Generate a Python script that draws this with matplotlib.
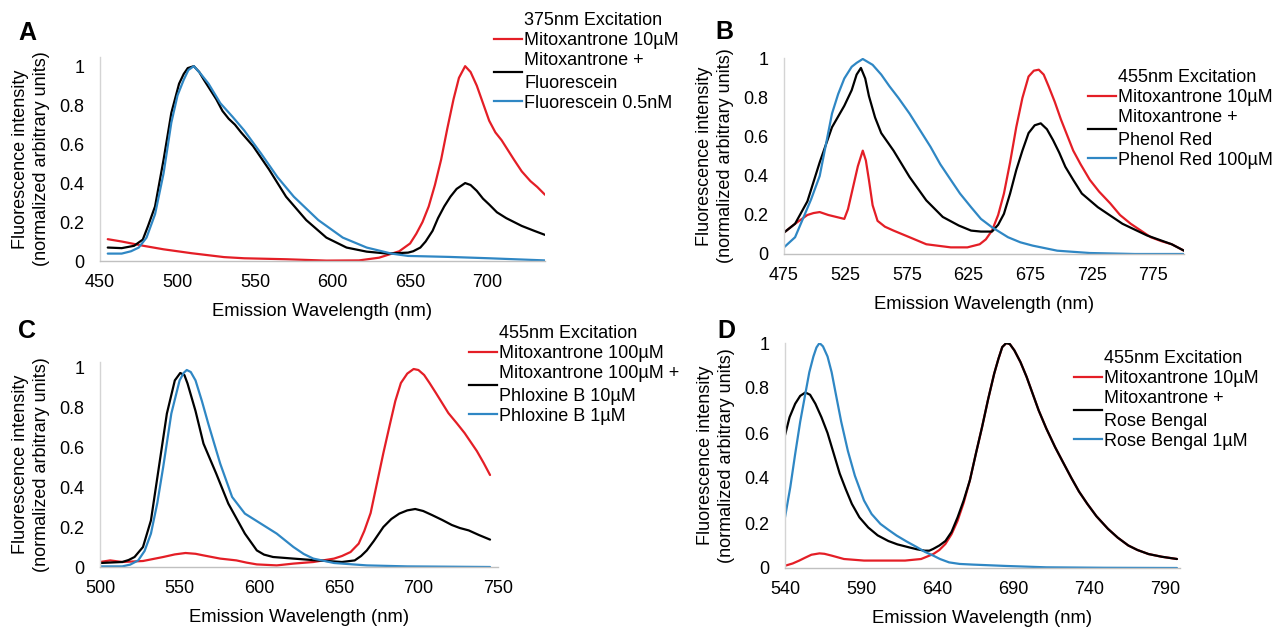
import matplotlib
matplotlib.use("Agg")
import matplotlib.pyplot as plt
from matplotlib.lines import Line2D

plt.rcParams['font.family'] = ['Liberation Sans', 'DejaVu Sans']

RED = '#e41e26'
BLACK = '#000000'
BLUE = '#2f87c4'

# ---------------- Panel A data (375 nm excitation) ----------------
a_red_wl = [455, 464, 478, 491, 509, 530, 543, 570, 596, 617, 630, 643, 650, 654, 658, 662, 666, 670, 674, 678, 681.5, 685.5, 689, 693, 697, 701, 705, 709, 713, 717, 722, 727.6, 732, 737]
a_red = [0.112, 0.10, 0.078, 0.06, 0.04, 0.02, 0.014, 0.009, 0.002, 0.003, 0.017, 0.05, 0.09, 0.14, 0.20, 0.28, 0.39, 0.52, 0.68, 0.83, 0.94, 1.0, 0.97, 0.9, 0.81, 0.72, 0.66, 0.62, 0.57, 0.52, 0.46, 0.41, 0.38, 0.34]
a_blk_wl = [455, 464, 472, 477.6, 481, 485.5, 491, 496, 501, 504, 506.6, 510.5, 514, 517, 521, 525, 529, 533, 537, 541, 548.7, 559, 570, 583, 596, 609, 622, 635.5, 648.7, 652, 656.6, 660, 664.5, 668, 672, 676, 680, 685.5, 689, 693, 697, 701, 706, 712, 717, 722, 730, 737]
a_blk = [0.069, 0.066, 0.078, 0.11, 0.18, 0.28, 0.52, 0.76, 0.91, 0.96, 0.99, 1.0, 0.97, 0.93, 0.88, 0.83, 0.77, 0.73, 0.70, 0.66, 0.59, 0.47, 0.33, 0.21, 0.12, 0.069, 0.048, 0.038, 0.043, 0.05, 0.069, 0.10, 0.155, 0.22, 0.28, 0.33, 0.37, 0.40, 0.39, 0.36, 0.32, 0.29, 0.25, 0.22, 0.20, 0.18, 0.155, 0.134]
a_blu_wl = [455, 464, 470, 475, 480, 485.5, 491, 496, 500, 504, 507, 510.5, 515, 520, 527.6, 535.5, 543, 554, 564.5, 575, 590.8, 606.6, 622, 638, 648.7, 675, 701, 737]
a_blu = [0.038, 0.038, 0.05, 0.069, 0.12, 0.24, 0.45, 0.71, 0.85, 0.93, 0.98, 1.0, 0.96, 0.91, 0.81, 0.74, 0.67, 0.55, 0.43, 0.33, 0.21, 0.12, 0.069, 0.038, 0.026, 0.021, 0.014, 0.003]
a_labels = ['375nm Excitation', 'Mitoxantrone 10\u00b5M', 'Mitoxantrone +\nFluorescein', 'Fluorescein 0.5nM']
a_xticks = [450, 500, 550, 600, 650, 700]

# ---------------- Panel B data (455 nm excitation) ----------------
b_red_wl = [475, 484, 494, 499, 504, 511, 517.5, 524, 527, 531, 535, 539, 541.5, 544, 547, 551, 557, 564, 577, 590.6, 610.5, 624, 634, 639, 644, 649, 653.7, 658.7, 663.7, 668.7, 673.7, 678, 682, 686, 690, 695, 700, 705, 710, 716, 723.5, 731, 740, 748, 756.7, 765, 773, 782, 790, 800]
b_red = [0.11, 0.155, 0.20, 0.21, 0.215, 0.20, 0.19, 0.18, 0.23, 0.34, 0.45, 0.53, 0.48, 0.38, 0.25, 0.17, 0.14, 0.12, 0.086, 0.05, 0.034, 0.034, 0.05, 0.075, 0.12, 0.20, 0.31, 0.47, 0.65, 0.80, 0.91, 0.94, 0.945, 0.92, 0.86, 0.78, 0.69, 0.61, 0.53, 0.46, 0.38, 0.32, 0.26, 0.20, 0.155, 0.12, 0.086, 0.065, 0.05, 0.017]
b_blk_wl = [475, 484, 494, 504, 514, 524, 530, 534, 537.5, 541, 544, 549, 554, 564, 577, 590.6, 604, 617, 627, 635, 644, 649, 653.7, 658.7, 663.7, 668.7, 673.7, 678.7, 683.6, 688.6, 693.6, 698.6, 703.6, 710, 717, 730, 750, 770, 790, 800]
b_blk = [0.11, 0.155, 0.27, 0.47, 0.65, 0.76, 0.84, 0.92, 0.954, 0.90, 0.81, 0.70, 0.62, 0.53, 0.395, 0.275, 0.19, 0.146, 0.12, 0.115, 0.115, 0.15, 0.206, 0.31, 0.43, 0.53, 0.62, 0.66, 0.67, 0.64, 0.584, 0.52, 0.447, 0.38, 0.31, 0.24, 0.155, 0.095, 0.05, 0.017]
b_blu_wl = [475, 484, 491, 497, 504, 509, 514, 519, 524, 530, 534, 539, 547, 554, 560.7, 568, 577, 585, 594, 602, 610.5, 618, 627, 635, 644, 657, 667, 677, 697, 723.5, 760, 800]
b_blu = [0.034, 0.086, 0.19, 0.28, 0.40, 0.56, 0.72, 0.82, 0.90, 0.96, 0.98, 1.0, 0.97, 0.92, 0.86, 0.80, 0.72, 0.64, 0.55, 0.46, 0.38, 0.31, 0.24, 0.18, 0.137, 0.086, 0.06, 0.043, 0.017, 0.005, 0.0, 0.0]
b_labels = ['455nm Excitation', 'Mitoxantrone 10\u00b5M', 'Mitoxantrone +\nPhenol Red', 'Phenol Red 100\u00b5M']
b_xticks = [475, 525, 575, 625, 675, 725, 775]

# ---------------- Panel C data ----------------
c_red_wl = [500, 506.4, 514, 527, 539.7, 547, 553.7, 560, 565, 575.5, 585.7, 592, 598.5, 611, 621.5, 634, 647, 652, 657.4, 662.5, 666, 670, 674, 678, 682, 685.5, 689, 693, 697, 700, 703.6, 707, 711, 718.8, 724, 729, 736.7, 741, 745]
c_red = [0.025, 0.033, 0.025, 0.03, 0.05, 0.063, 0.07, 0.066, 0.058, 0.042, 0.033, 0.022, 0.013, 0.008, 0.017, 0.025, 0.042, 0.055, 0.075, 0.117, 0.18, 0.27, 0.42, 0.57, 0.71, 0.83, 0.92, 0.967, 0.99, 0.985, 0.96, 0.92, 0.87, 0.77, 0.72, 0.67, 0.58, 0.52, 0.46]
c_blk_wl = [500, 514, 518, 521.7, 527, 532, 537, 542, 547, 550.4, 553, 555, 560, 565, 573, 580.6, 591, 598.5, 603, 608.7, 621.5, 636.6, 652, 660, 664, 667.6, 672, 678, 683, 688, 693, 698, 703, 708.5, 715, 721, 726, 731.6, 738, 745]
c_blk = [0.02, 0.025, 0.035, 0.05, 0.1, 0.233, 0.5, 0.767, 0.933, 0.97, 0.96, 0.917, 0.78, 0.617, 0.467, 0.317, 0.167, 0.083, 0.062, 0.05, 0.042, 0.033, 0.025, 0.033, 0.055, 0.083, 0.13, 0.2, 0.24, 0.267, 0.283, 0.29, 0.28, 0.26, 0.235, 0.21, 0.195, 0.183, 0.16, 0.137]
c_blu_wl = [500, 514, 519, 524, 528, 532, 536, 539.7, 544.8, 550, 552.5, 554.5, 557, 560, 564, 568, 575.5, 583, 591, 601, 611, 621.5, 628, 634, 647, 667.6, 693, 745]
c_blu = [0.003, 0.003, 0.012, 0.033, 0.08, 0.167, 0.32, 0.5, 0.767, 0.933, 0.97, 0.985, 0.975, 0.933, 0.83, 0.717, 0.517, 0.35, 0.267, 0.217, 0.167, 0.1, 0.065, 0.042, 0.02, 0.008, 0.003, 0.0]
c_labels = ['455nm Excitation', 'Mitoxantrone 100\u00b5M', 'Mitoxantrone 100\u00b5M +\nPhloxine B 10\u00b5M', 'Phloxine B 1\u00b5M']
c_xticks = [500, 550, 600, 650, 700, 750]

# ---------------- Panel D data ----------------
d_red_wl = [540, 545, 549.4, 553, 557.4, 562.7, 566, 570.7, 578.8, 592, 605.5, 619, 629.6, 637.6, 641.6, 645.6, 649.6, 653.6, 657.6, 661.7, 665.7, 669.7, 673.7, 677.7, 680.5, 683, 685.7, 688, 691, 695, 699, 703, 707, 712, 717.8, 723, 728.5, 733.5, 739, 745, 752.6, 759, 766, 772, 779.3, 788, 798]
d_red = [0.01, 0.02, 0.033, 0.045, 0.059, 0.065, 0.063, 0.055, 0.04, 0.033, 0.033, 0.033, 0.04, 0.062, 0.08, 0.107, 0.15, 0.21, 0.29, 0.39, 0.51, 0.626, 0.75, 0.864, 0.93, 0.982, 1.0, 0.995, 0.967, 0.915, 0.85, 0.775, 0.70, 0.62, 0.537, 0.47, 0.40, 0.34, 0.285, 0.23, 0.174, 0.135, 0.1, 0.08, 0.062, 0.05, 0.04]
d_blk_wl = [540, 543, 546.7, 550, 553.4, 556.5, 560, 564, 568, 572, 576, 580, 584, 589, 594.8, 601, 608, 614, 621.5, 627, 632, 635, 637.6, 641.6, 645.6, 649.6, 653.6, 657.6, 661.7, 665.7, 669.7, 673.7, 677.7, 680.5, 683, 685.7, 688, 691, 695, 699, 703, 707, 712, 717.8, 723, 728.5, 733.5, 739, 745, 752.6, 759, 766, 772, 779.3, 788, 798]
d_blk = [0.59, 0.67, 0.73, 0.765, 0.78, 0.77, 0.73, 0.67, 0.6, 0.51, 0.42, 0.35, 0.285, 0.225, 0.18, 0.145, 0.12, 0.105, 0.092, 0.083, 0.077, 0.077, 0.085, 0.1, 0.12, 0.16, 0.225, 0.30, 0.39, 0.51, 0.626, 0.75, 0.864, 0.93, 0.982, 1.0, 0.995, 0.967, 0.915, 0.85, 0.775, 0.70, 0.62, 0.537, 0.47, 0.40, 0.34, 0.285, 0.23, 0.174, 0.135, 0.1, 0.08, 0.062, 0.05, 0.04]
d_blu_wl = [540, 543.5, 546.7, 550, 553.4, 556, 558.7, 560.7, 562.7, 565, 568, 570.7, 573.4, 577, 581.4, 586, 592, 597, 602.8, 608, 613.5, 620, 627, 632, 637.6, 642, 648, 655, 664, 675, 685.7, 712, 750, 798]
d_blu = [0.225, 0.36, 0.507, 0.65, 0.775, 0.87, 0.94, 0.98, 1.0, 0.985, 0.94, 0.87, 0.775, 0.65, 0.52, 0.41, 0.30, 0.24, 0.196, 0.17, 0.144, 0.118, 0.092, 0.072, 0.055, 0.04, 0.025, 0.018, 0.015, 0.012, 0.009, 0.003, 0.001, 0.0]
d_labels = ['455nm Excitation', 'Mitoxantrone 10\u00b5M', 'Mitoxantrone +\nRose Bengal', 'Rose Bengal 1\u00b5M']
d_xticks = [540, 590, 640, 690, 740, 790]

y_ticks = [0, 0.2, 0.4, 0.6, 0.8, 1.0]
y_ticklabels = ['0', '0.2', '0.4', '0.6', '0.8', '1']

W, H = 1282, 628
fig = plt.figure(figsize=(W / 100, H / 100), dpi=100)


def px_axes(left, right, bottom, top):
    return [left / W, 1 - bottom / H, (right - left) / W, (bottom - top) / H]


def panel(rect, xlim, ytop, xticks, series, labels, letter, letter_xy, leg_xy):
    ax = fig.add_axes(px_axes(*rect))
    for wl, val, col in series:
        ax.plot(wl, val, color=col, lw=1.6, solid_joinstyle='round', solid_capstyle='round')
    ax.set_xlim(*xlim)
    ax.set_ylim(0, ytop)
    ax.set_xticks(xticks)
    ax.set_yticks(y_ticks)
    ax.set_yticklabels(y_ticklabels)
    for s in ['top', 'right']:
        ax.spines[s].set_visible(False)
    ax.spines['left'].set_color('#d4d4d4')
    ax.spines['bottom'].set_color('#c0c0c0')
    ax.spines['left'].set_linewidth(1.0)
    ax.spines['bottom'].set_linewidth(1.0)
    ax.tick_params(axis='both', length=0, labelsize=13)
    ax.tick_params(axis='y', pad=11)
    ax.tick_params(axis='x', pad=9.5)
    ax.set_xlabel('Emission Wavelength (nm)', fontsize=13.3, labelpad=8.5)
    ax.set_ylabel('Fluorescence intensity\n(normalized arbitrary units)', fontsize=13,
                  linespacing=1.3)
    width = rect[1] - rect[0]
    ax.yaxis.set_label_coords(-50 / width, 0.5)
    handles = [Line2D([], [], color='none')] + [Line2D([], [], color=c, lw=1.6) for _, _, c in series]
    leg = fig.legend(handles, labels, loc='upper left',
                     bbox_to_anchor=(leg_xy[0] / W, 1 - leg_xy[1] / H),
                     frameon=False, fontsize=13, handlelength=1.55, handletextpad=0.12,
                     labelspacing=0.17, borderpad=0, borderaxespad=0)
    for t in leg.get_texts():
        t.set_linespacing(1.42)
    fig.text(letter_xy[0] / W, 1 - letter_xy[1] / H, letter, fontsize=18, fontweight='bold',
             ha='center', va='center')
    return ax


panel((100, 545, 261, 57), (450, 737), 1.047, a_xticks,
      [(a_red_wl, a_red, RED), (a_blk_wl, a_blk, BLACK), (a_blu_wl, a_blu, BLUE)],
      a_labels, 'A', (27, 33), (494, 12))
panel((784, 1184, 254, 58), (475, 800), 1.005, b_xticks,
      [(b_red_wl, b_red, RED), (b_blk_wl, b_blk, BLACK), (b_blu_wl, b_blu, BLUE)],
      b_labels, 'B', (724, 32), (1088, 69))
panel((100, 498, 567, 362), (500, 750), 1.025, c_xticks,
      [(c_red_wl, c_red, RED), (c_blk_wl, c_blk, BLACK), (c_blu_wl, c_blu, BLUE)],
      c_labels, 'C', (27, 331), (469, 325))
panel((785, 1180, 568, 343), (540, 800), 1.0, d_xticks,
      [(d_red_wl, d_red, RED), (d_blk_wl, d_blk, BLACK), (d_blu_wl, d_blu, BLUE)],
      d_labels, 'D', (726, 331), (1074, 350))

fig.savefig('out.png', dpi=100, facecolor='white')
